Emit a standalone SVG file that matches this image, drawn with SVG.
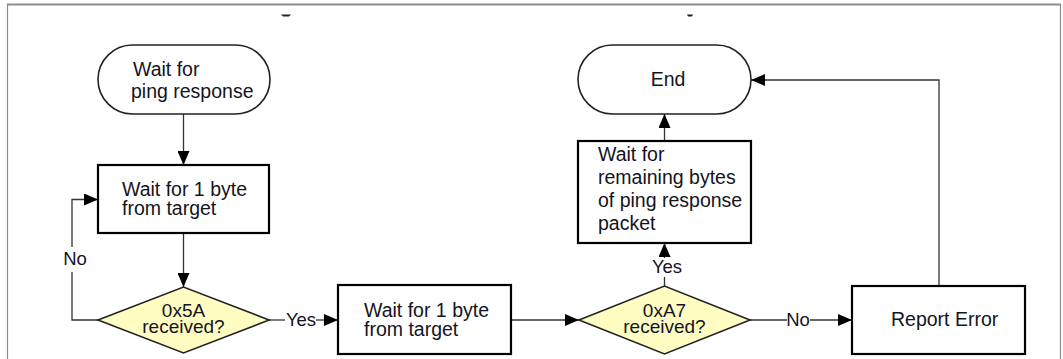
<svg xmlns="http://www.w3.org/2000/svg" width="1063" height="359" viewBox="0 0 1063 359">
  <defs>
    <marker id="arrow" markerUnits="userSpaceOnUse" markerWidth="14" markerHeight="12" viewBox="0 0 14 12" refX="14" refY="6" orient="auto">
      <path d="M0,0 L14,6 L0,12 Z" fill="#000"/>
    </marker>
    <style>
      .frame { stroke: #8c8c8c; fill: none; }
      .term { fill: #fff; stroke: #222; stroke-width: 1.6; }
      .box { fill: #fff; stroke: #000; stroke-width: 2.2; }
      .dec { fill: #fffdc2; stroke: #222; stroke-width: 1.6; }
      .conn { fill: none; stroke: #333; stroke-width: 1.3; }
      .arr { marker-end: url(#arrow); }
      text { font-family: "Liberation Sans", Arial, sans-serif; font-size: 19.5px; fill: #14141e; }
      .mid { text-anchor: middle; }
      .dtxt { font-size: 19px; text-anchor: middle; }
      .lbl { font-size: 18.5px; text-anchor: middle; }
    </style>
  </defs>

  <rect width="1063" height="359" fill="#fff"/>

  <!-- page frame -->
  <g id="frame">
    <line class="frame" x1="7" y1="4.5" x2="1061" y2="4.5" stroke-width="2"/>
    <line class="frame" x1="7.5" y1="4" x2="7.5" y2="359" stroke-width="1.2"/>
    <line class="frame" x1="1060.5" y1="4" x2="1060.5" y2="359" stroke-width="1.2"/>
    <!-- clipped title glyph tails -->
    <path d="M281,14.5 L291,14.5 L289,16.5 L283,16.5 Z" fill="#222"/>
    <path d="M687,14.5 L693,14.5 L692,16.5 L688,16.5 Z" fill="#222"/>
  </g>

  <!-- connectors -->
  <g id="connectors">
    <line class="conn arr" x1="183.5" y1="114" x2="183.5" y2="165"/>
    <line class="conn arr" x1="183.5" y1="233" x2="183.5" y2="287"/>
    <!-- No loop back -->
    <polyline class="conn" points="98,320 72,320 72,272"/>
    <polyline class="conn arr" points="72,247 72,199.5 98,199.5"/>
    <!-- Yes to second wait -->
    <line class="conn" x1="269" y1="320" x2="285" y2="320"/>
    <line class="conn arr" x1="316" y1="320" x2="338" y2="320"/>
    <line class="conn arr" x1="511" y1="320" x2="579" y2="320"/>
    <!-- Yes up to remaining bytes -->
    <line class="conn" x1="664.5" y1="286" x2="664.5" y2="277"/>
    <line class="conn arr" x1="664.5" y1="258" x2="664.5" y2="243"/>
    <line class="conn arr" x1="664.5" y1="141" x2="664.5" y2="114"/>
    <!-- No to report error -->
    <line class="conn" x1="750" y1="320" x2="787" y2="320"/>
    <line class="conn arr" x1="810" y1="320" x2="852" y2="320"/>
    <!-- report error back to end -->
    <polyline class="conn arr" points="939,286 939,80 751,80"/>
    <text class="lbl" x="75" y="265">No</text>
    <text class="lbl" x="301" y="326">Yes</text>
    <text class="lbl" x="667" y="273">Yes</text>
    <text class="lbl" x="798" y="326">No</text>
  </g>

  <g id="start">
    <rect class="term" x="98" y="45" width="172" height="69" rx="34.5"/>
    <text x="133" y="76">Wait for</text>
    <text x="131" y="98">ping response</text>
  </g>

  <g id="wait-first-byte">
    <rect class="box" x="98" y="165" width="171" height="68"/>
    <text x="122" y="196">Wait for 1 byte</text>
    <text x="122" y="215">from target</text>
  </g>

  <g id="check-5a">
    <polygon class="dec" points="98,320 183.5,287 269,320 183.5,353"/>
    <text class="dtxt" x="183.5" y="317">0x5A</text>
    <text class="dtxt" x="183.5" y="333">received?</text>
  </g>

  <g id="wait-second-byte">
    <rect class="box" x="338" y="285" width="173" height="69"/>
    <text x="364" y="317">Wait for 1 byte</text>
    <text x="364" y="336">from target</text>
  </g>

  <g id="check-a7">
    <polygon class="dec" points="579,320 664.5,286 750,320 664.5,354"/>
    <text class="dtxt" x="664.5" y="317">0xA7</text>
    <text class="dtxt" x="664.5" y="333">received?</text>
  </g>

  <g id="wait-remaining">
    <rect class="box" x="578" y="141" width="173" height="102"/>
    <text x="598" y="161">Wait for</text>
    <text x="598" y="184">remaining bytes</text>
    <text x="598" y="207">of ping response</text>
    <text x="598" y="230">packet</text>
  </g>

  <g id="end">
    <rect class="term" x="578" y="45" width="173" height="69" rx="34.5"/>
    <text class="mid" x="668" y="86">End</text>
  </g>

  <g id="report-error">
    <rect class="box" x="852" y="286" width="173" height="68"/>
    <text x="891" y="326">Report Error</text>
  </g>
</svg>
